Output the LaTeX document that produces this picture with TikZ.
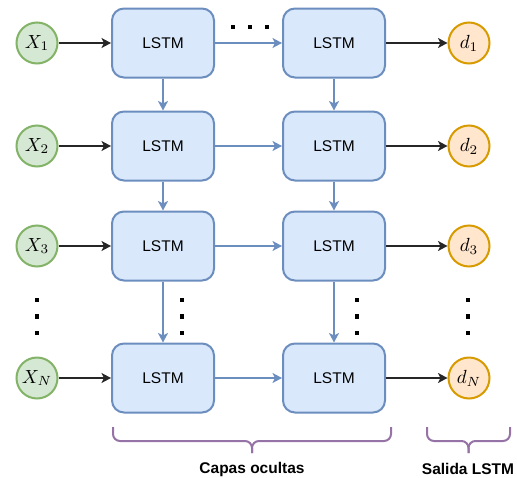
\documentclass[tikz,border=0pt]{standalone}
\usepackage{fontspec}
\setmainfont{Liberation Sans}
\usetikzlibrary{arrows.meta}
\definecolor{lstmF}{HTML}{DAE8FC}
\definecolor{lstmB}{HTML}{6C8EBF}
\definecolor{grF}{HTML}{D5E8D4}
\definecolor{grB}{HTML}{82B366}
\definecolor{orF}{HTML}{FFE6CC}
\definecolor{orB}{HTML}{D79B00}
\definecolor{purp}{HTML}{9673A6}
\newcommand{\mlab}[1]{\scalebox{1.9}{$#1$}}
\tikzset{
  lstm/.style={draw=lstmB, fill=lstmF, line width=2pt, rounded corners=12pt,
    minimum width=102pt, minimum height=69pt, inner sep=0pt,
    font=\fontsize{15.5}{18}\selectfont},
  xin/.style={circle, draw=grB, fill=grF, line width=2pt, minimum size=41pt,
    inner sep=0pt},
  dout/.style={circle, draw=orB, fill=orF, line width=2pt, minimum size=41pt,
    inner sep=0pt},
  blk/.style={-{Stealth[length=9.5pt,width=10pt,inset=2.5pt]}, line width=1.5pt, draw=black!85},
  blu/.style={-{Stealth[length=9.5pt,width=10pt,inset=2.5pt]}, line width=1.5pt, draw=lstmB},
  sqdot/.style={rectangle, fill=black, minimum size=4.5pt, inner sep=0pt},
  brace/.style={draw=purp, line width=2pt, rounded corners=7pt},
  lbl/.style={font=\bfseries\fontsize{15.5}{18}\selectfont, inner sep=0pt}
}
\begin{document}
\begin{tikzpicture}[x=1pt,y=-1pt]
\useasboundingbox (0,0) rectangle (517,477);
% inputs
\node[xin] (x1) at (37,43)  {\mlab{X_1}};
\node[xin] (x2) at (37,146) {\mlab{X_2}};
\node[xin] (x3) at (37,246) {\mlab{X_3}};
\node[xin] (xN) at (37,378) {\mlab{X_N}};
% LSTM column 1
\node[lstm] (a1) at (163,43)  {LSTM};
\node[lstm] (a2) at (163,146) {LSTM};
\node[lstm] (a3) at (163,246) {LSTM};
\node[lstm] (a4) at (163,378) {LSTM};
% LSTM column 2
\node[lstm] (b1) at (334,43)  {LSTM};
\node[lstm] (b2) at (334,146) {LSTM};
\node[lstm] (b3) at (334,246) {LSTM};
\node[lstm] (b4) at (334,378) {LSTM};
% outputs
\node[dout] (d1) at (469,43)  {\mlab{d_1}};
\node[dout] (d2) at (469,146) {\mlab{d_2}};
\node[dout] (d3) at (469,246) {\mlab{d_3}};
\node[dout] (dN) at (469,378) {\mlab{d_N}};
% input arrows
\foreach \s/\t in {x1/a1,x2/a2,x3/a3,xN/a4} \draw[blk] (\s) -- (\t);
% output arrows
\foreach \s/\t in {b1/d1,b2/d2,b3/d3,b4/dN} \draw[blk] (\s) -- (\t);
% horizontal LSTM arrows
\foreach \s/\t in {a1/b1,a2/b2,a3/b3,a4/b4} \draw[blu] (\s) -- (\t);
% vertical LSTM arrows
\foreach \s/\t in {a1/a2,a2/a3,a3/a4,b1/b2,b2/b3,b3/b4} \draw[blu] (\s) -- (\t);
% dots
\node[sqdot] (h1) at (233,27) {};
\node[sqdot] (h2) at (250,27) {};
\node[sqdot] (h3) at (267,27) {};
\foreach \xx/\nm in {37/p,182/q,357/r,468/s} {
  \node[sqdot] (\nm1) at (\xx,300) {};
  \node[sqdot] (\nm2) at (\xx,316.5) {};
  \node[sqdot] (\nm3) at (\xx,333) {};
}
% braces
\draw[brace] (113,427) |- (252,441) -- (252,453);
\draw[brace] (391,427) |- (252,441) -- (252,453);
\draw[brace] (427,427) |- (468.5,441) -- (468.5,453);
\draw[brace] (510,427) |- (468.5,441) -- (468.5,453);
% labels
\node[lbl] (capas) at (252,469) {Capas ocultas};
\node[lbl] (salida) at (468,469) {Salida LSTM};
\end{tikzpicture}
\end{document}
